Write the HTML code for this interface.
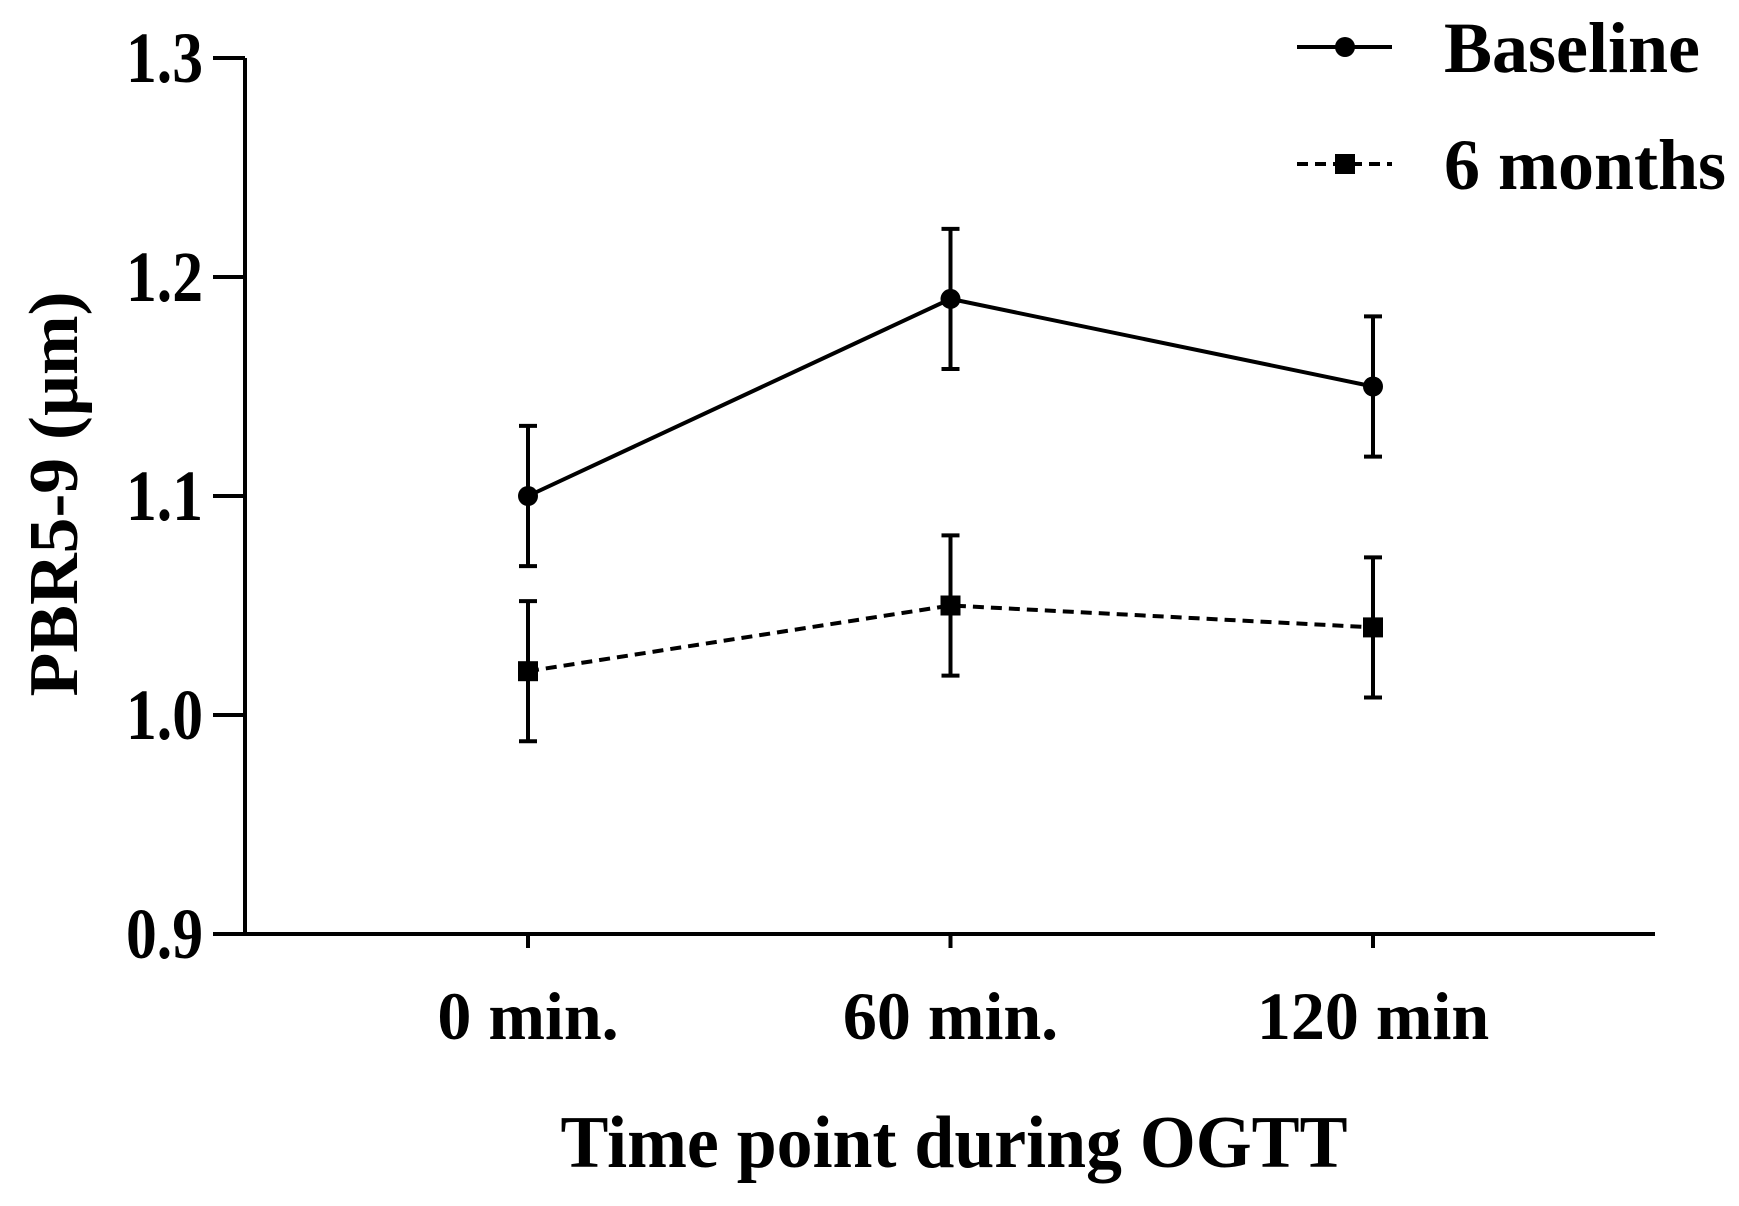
<!DOCTYPE html>
<html><head><meta charset="utf-8"><style>
html,body{margin:0;padding:0;background:#fff;}
svg text{font-family:"Liberation Serif",serif;font-weight:bold;fill:#000;}
</style></head><body>
<svg id="chart" width="1739" height="1201" xmlns="http://www.w3.org/2000/svg">
<g id="axes"></g>
<g id="series"></g>
<g id="legend"></g>
<text x="0" y="0" transform="translate(77,494) rotate(-90)" text-anchor="middle" font-size="70" textLength="405" lengthAdjust="spacingAndGlyphs">PBR5-9 (µm)</text>
<text x="954" y="1167" text-anchor="middle" font-size="74" textLength="787" lengthAdjust="spacingAndGlyphs">Time point during OGTT</text>
</svg>
<script>
const categories = ["0 min.", "60 min.", "120 min"];
const yTicks = [0.9, 1.0, 1.1, 1.2, 1.3];
const yTickLabels = ["0.9", "1.0", "1.1", "1.2", "1.3"];
const baseline = [1.10, 1.19, 1.15];
const baselineErr = [0.032, 0.032, 0.032];
const sixMonths = [1.02, 1.05, 1.04];
const sixMonthsErr = [0.032, 0.032, 0.032];

const NS = "http://www.w3.org/2000/svg";
const X0 = 245, X1 = 1655, Y0 = 934, Y1 = 58;
function xPos(i){ return 528 + i * (1373 - 528) / (categories.length - 1); }
function yPos(v){ return Y0 - (v - 0.9) / (1.3 - 0.9) * (Y0 - Y1); }
function mk(tag, attrs, parent){ const e = document.createElementNS(NS, tag); for (const k in attrs) e.setAttribute(k, attrs[k]); parent.appendChild(e); return e; }

const axes = document.getElementById('axes');
let el = mk('line', {x1:X0, y1:Y0, x2:X1, y2:Y0, stroke:'#000','stroke-width':4}, axes);


el = mk('line', {x1:X0, y1:Y0+2, x2:X0, y2:Y1, stroke:'#000','stroke-width':4}, axes);


yTicks.forEach((v, i) => {
  const y = yPos(v);
  const t = mk('line', {x1:X0-32, y1:y, x2:X0, y2:y, stroke:'#000','stroke-width':4}, axes);
  
  
  const l = mk('text', {x:X0-42, y:y+24, 'text-anchor':'end', 'font-size':72, textLength:77, lengthAdjust:'spacingAndGlyphs'}, axes);
  l.textContent = yTickLabels[i];
  
  
});
categories.forEach((c, i) => {
  const x = xPos(i);
  const t = mk('line', {x1:x, y1:Y0, x2:x, y2:Y0+14, stroke:'#000','stroke-width':4}, axes);
  
  
  const l = mk('text', {x:x, y:1039, 'text-anchor':'middle', 'font-size':68}, axes);
  l.textContent = c;
  
  
});

const series = document.getElementById('series');
function drawSeries(vals, errs, dashed, square, name){
  const g = mk('g', {}, series);
  
  
  const pts = vals.map((v, i) => xPos(i) + ',' + yPos(v)).join(' ');
  const pl = mk('polyline', {points:pts, fill:'none', stroke:'#000', 'stroke-width':4}, g);
  if (dashed) pl.setAttribute('stroke-dasharray', '11 7');
  
  
  vals.forEach((v, i) => {
    const x = xPos(i), yt = yPos(v + errs[i]), yb = yPos(v - errs[i]);
    const eb = mk('path', {d:`M${x},${yt}V${yb}M${x-9},${yt}H${x+9}M${x-9},${yb}H${x+9}`, stroke:'#000','stroke-width':4, fill:'none'}, g);
    
    
    let m;
    if (square) m = mk('rect', {x:x-10, y:yPos(v)-10, width:20, height:20, fill:'#000'}, g);
    else m = mk('circle', {cx:x, cy:yPos(v), r:10, fill:'#000'}, g);
    
    
  });
}
drawSeries(baseline, baselineErr, false, false, 'baseline');
drawSeries(sixMonths, sixMonthsErr, true, true, 'six-months');

const legend = document.getElementById('legend');
function legendEntry(y, label, dashed, square, name){
  const g = mk('g', {}, legend);
  
  
  const ln = mk('line', {x1:1297, y1:y, x2:1392, y2:y, stroke:'#000','stroke-width':4}, g);
  if (dashed) ln.setAttribute('stroke-dasharray', '11 7');
  if (square) mk('rect', {x:1335, y:y-10, width:20, height:20, fill:'#000'}, g);
  else mk('circle', {cx:1345, cy:y, r:10, fill:'#000'}, g);
  const t = mk('text', {x:1444, y:y+25, 'font-size':72}, g);
  t.textContent = label;
}
legendEntry(47, 'Baseline', false, false, 'baseline');
legendEntry(164, '6 months', true, true, 'six-months');
</script>
</body></html>
